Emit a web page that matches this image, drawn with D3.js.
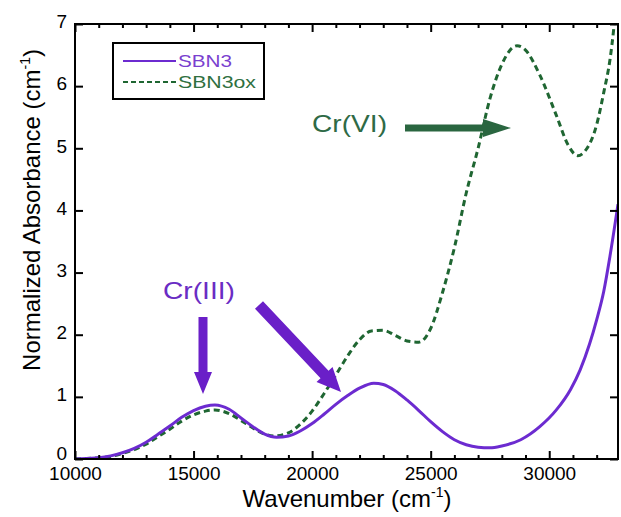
<!DOCTYPE html>
<html>
<head>
<meta charset="utf-8">
<script src="https://cdn.jsdelivr.net/npm/d3@7"></script>
<style>
  body { margin: 0; background: #fff; }
  text { font-family: "Liberation Sans", Arial, sans-serif; }
</style>
</head>
<body>
<svg id="svg1" width="621" height="517"></svg>
<script>
// data
var waveSBN3 = [10000, 10500, 11000, 11500, 12000, 12500, 13000, 13500, 14000, 14500, 15000, 15500, 15900, 16500, 17000, 17500, 18000, 18500, 19000, 19500, 20000, 20500, 21000, 21500, 22000, 22600, 23000, 23500, 24000, 24500, 25000, 25500, 26000, 26500, 27000, 27500, 28000, 28800, 29600, 30300, 30900, 31300, 31700, 32000, 32300, 32560, 32900];
var absSBN3 = [0.0, 0.01, 0.02, 0.05, 0.1, 0.17, 0.27, 0.4, 0.53, 0.67, 0.78, 0.85, 0.87, 0.8, 0.66, 0.52, 0.4, 0.35, 0.37, 0.45, 0.57, 0.72, 0.88, 1.02, 1.14, 1.22, 1.2, 1.1, 0.95, 0.78, 0.6, 0.44, 0.31, 0.23, 0.19, 0.18, 0.21, 0.31, 0.52, 0.79, 1.12, 1.43, 1.85, 2.24, 2.7, 3.26, 4.1];

var waveOx = [10000, 10500, 11000, 11500, 12000, 12500, 13000, 13500, 14000, 14500, 15000, 15500, 15900, 16500, 17000, 17500, 18000, 18400, 19000, 19500, 20000, 20500, 21000, 21500, 22000, 22500, 23000, 23500, 24000, 24500, 25000, 25500, 26000, 26500, 27000, 27500, 28000, 28640, 29000, 29600, 30300, 30800, 31200, 31500, 32000, 32300, 32560, 32900];
var absOx = [0.0, 0.01, 0.02, 0.04, 0.09, 0.15, 0.24, 0.36, 0.48, 0.61, 0.71, 0.77, 0.79, 0.73, 0.62, 0.5, 0.4, 0.37, 0.42, 0.56, 0.77, 1.05, 1.35, 1.66, 1.92, 2.06, 2.07, 1.99, 1.9, 1.88, 2.1, 2.68, 3.4, 4.28, 5.0, 5.8, 6.35, 6.65, 6.58, 6.18, 5.53, 5.05, 4.88, 4.95, 5.38, 5.9, 6.42, 7.6];

var xTicks = [10000, 15000, 20000, 25000, 30000];
var yTicks = [0, 1, 2, 3, 4, 5, 6, 7];

var purple = '#6c2bd0';
var green = '#1f6632';

var plotL = 75, plotR = 618, plotT = 24, plotB = 459;

var scaleX = d3.scaleLinear().domain([10000, 32900]).range([plotL, plotR]);
var scaleY = d3.scaleLinear().domain([0, 7]).range([plotB, plotT]);

var svg = d3.select('#svg1');

svg.append('defs').append('clipPath').attr('id', 'plotclip')
    .append('rect')
    .attr('x', plotL).attr('y', plotT)
    .attr('width', plotR - plotL).attr('height', plotB - plotT);

var makeLine = d3.line()
    .x(function(d){ return scaleX(d[0]); })
    .y(function(d){ return scaleY(d[1]); })
    .curve(d3.curveMonotoneX);

var ptsSBN3 = waveSBN3.map(function(w, i){ return [w, absSBN3[i]]; });
var ptsOx = waveOx.map(function(w, i){ return [w, absOx[i]]; });

var plot = svg.append('g').attr('clip-path', 'url(#plotclip)');

plot.append('path')
    .datum(ptsOx)
    .attr('d', makeLine)
    .attr('fill', 'none')
    .attr('stroke', green)
    .attr('stroke-width', 3)
    .attr('stroke-dasharray', '6,4');

plot.append('path')
    .datum(ptsSBN3)
    .attr('d', makeLine)
    .attr('fill', 'none')
    .attr('stroke', purple)
    .attr('stroke-width', 3);

// axes, ticks inside
var minorX = d3.range(10000, 32901, 1000).filter(function(v){ return v % 5000 != 0; });

var xBottom = d3.axisBottom(scaleX).tickValues(xTicks).tickSize(-8).tickPadding(8).tickFormat(d3.format('d'));
var xBottomMinor = d3.axisBottom(scaleX).tickValues(minorX).tickSize(-4).tickFormat('');
var xTop = d3.axisTop(scaleX).tickValues(xTicks).tickSize(-8).tickFormat('');
var xTopMinor = d3.axisTop(scaleX).tickValues(minorX).tickSize(-4).tickFormat('');
var yLeft = d3.axisLeft(scaleY).tickValues(yTicks).tickSize(-8).tickPadding(8).tickFormat(d3.format('d'));
var yRight = d3.axisRight(scaleY).tickValues(yTicks).tickSize(-8).tickFormat('');

function addAxis(ax, tx, ty) {
    var g = svg.append('g')
        .attr('transform', 'translate(' + tx + ',' + ty + ')')
        .call(ax);
    g.select('.domain').remove();
    g.selectAll('line').attr('stroke', '#000').attr('stroke-width', 2);
    g.selectAll('text').attr('fill', '#000').style('font-size', '19px');
    return g;
}
addAxis(xBottom, 0, plotB);
addAxis(xBottomMinor, 0, plotB);
addAxis(xTop, 0, plotT);
addAxis(xTopMinor, 0, plotT);
var yg = addAxis(yLeft, plotL, 0);
yg.selectAll('text').attr('dy', function(d){ return d == 0 ? '0.05em' : '0.2em'; });
addAxis(yRight, plotR, 0);

svg.append('rect')
    .attr('x', plotL).attr('y', plotT)
    .attr('width', plotR - plotL).attr('height', plotB - plotT)
    .attr('fill', 'none').attr('stroke', '#000').attr('stroke-width', 2);

// axis titles
var xt = svg.append('text')
    .attr('x', 347).attr('y', 507)
    .attr('text-anchor', 'middle')
    .style('font-size', '24px');
xt.append('tspan').text('Wavenumber (cm');
xt.append('tspan').text('-1').attr('dy', -10).style('font-size', '14px');
xt.append('tspan').text(')').attr('dy', 10);

var yt = svg.append('text')
    .attr('transform', 'translate(40,210)rotate(-90)')
    .attr('text-anchor', 'middle')
    .style('font-size', '24px');
yt.append('tspan').text('Normalized Absorbance (cm');
yt.append('tspan').text('-1').attr('dy', -10).style('font-size', '14px');
yt.append('tspan').text(')').attr('dy', 10);

// legend
svg.append('rect')
    .attr('x', 113).attr('y', 43).attr('width', 151).attr('height', 56)
    .attr('fill', '#fff').attr('stroke', '#000').attr('stroke-width', 2);

var legendNames = ['SBN3', 'SBN3ox'];
var legendColors = ['#7a3fcf', '#2f7040'];
var legendWidths = [54, 78];
var legendDash = ['none', '5,3'];
legendNames.forEach(function(name, i){
    var y = 61 + i * 21;
    svg.append('line')
        .attr('x1', 123).attr('x2', 176).attr('y1', y).attr('y2', y)
        .attr('stroke', i == 0 ? purple : green)
        .attr('stroke-width', 2)
        .attr('stroke-dasharray', legendDash[i]);
    svg.append('text')
        .text(name)
        .attr('x', 178).attr('y', y + 6)
        .attr('fill', legendColors[i])
        .attr('textLength', legendWidths[i])
        .attr('lengthAdjust', 'spacingAndGlyphs')
        .style('font-size', '17px');
});

// annotations
function arrow(x1, y1, x2, y2, shaft, headW, headL, color) {
    var ang = Math.atan2(y2 - y1, x2 - x1);
    var len = Math.sqrt((x2 - x1) * (x2 - x1) + (y2 - y1) * (y2 - y1));
    var pts = [[0, -shaft / 2], [len - headL, -shaft / 2], [len - headL, -headW / 2], [len, 0],
               [len - headL, headW / 2], [len - headL, shaft / 2], [0, shaft / 2]];
    svg.append('polygon')
        .attr('points', pts.map(function(p){ return p.join(','); }).join(' '))
        .attr('transform', 'translate(' + x1 + ',' + y1 + ')rotate(' + (ang * 180 / Math.PI) + ')')
        .attr('fill', color);
}

svg.append('text')
    .text('Cr(III)')
    .attr('x', 163).attr('y', 299)
    .attr('fill', '#6a2cc4')
    .attr('textLength', 72)
    .attr('lengthAdjust', 'spacingAndGlyphs')
    .style('font-size', '24px');
arrow(203, 317, 203, 394, 9, 18, 22, '#6a1fc8');
arrow(259, 305, 341, 392, 11, 22, 24, '#6a1fc8');

svg.append('text')
    .text('Cr(VI)')
    .attr('x', 312).attr('y', 132)
    .attr('fill', '#2e6a46')
    .attr('textLength', 75)
    .attr('lengthAdjust', 'spacingAndGlyphs')
    .style('font-size', '24px');
arrow(405, 128, 511, 128, 7, 18, 28, '#2a6640');
</script>
</body>
</html>
